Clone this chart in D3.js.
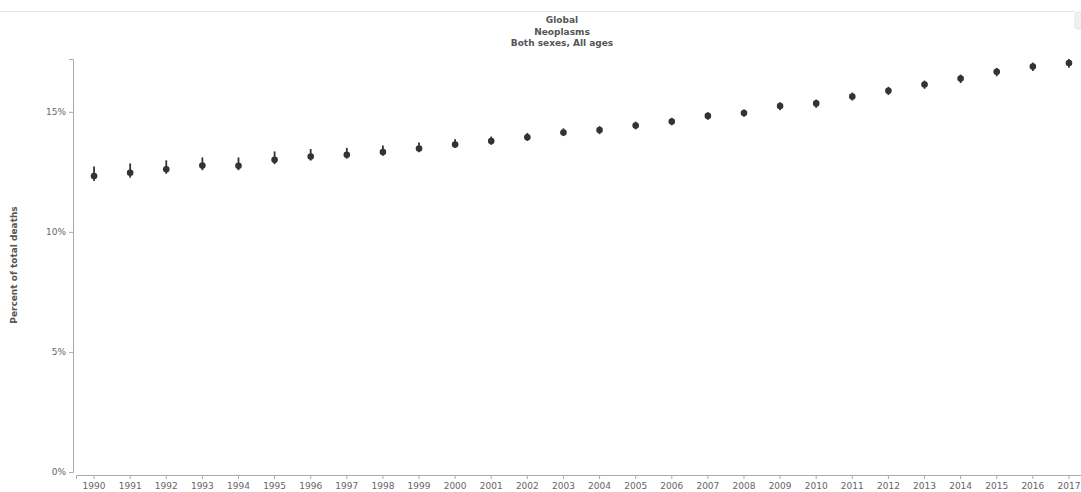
<!DOCTYPE html>
<html>
<head>
<meta charset="utf-8">
<script src="https://cdn.jsdelivr.net/npm/d3@7"></script>
<style>
  body { margin: 0; background: #fff; }
  svg { display: block; font-family: "DejaVu Sans", Verdana, sans-serif; }
</style>
</head>
<body>
<svg width="1081" height="492"></svg>
<script>
const years = d3.range(1990, 2018).map(String);
const mean = [12.33, 12.46, 12.61, 12.76, 12.75, 13.0, 13.14, 13.21, 13.33, 13.47,
  13.64, 13.78, 13.94, 14.14, 14.24, 14.43, 14.6, 14.83, 14.95, 15.24,
  15.35, 15.64, 15.88, 16.14, 16.39, 16.67, 16.89, 17.03];
const lower = [12.12, 12.26, 12.42, 12.57, 12.57, 12.82, 12.97, 13.05, 13.17, 13.32,
  13.5, 13.63, 13.79, 13.99, 14.07, 14.27, 14.44, 14.67, 14.79, 15.07,
  15.17, 15.47, 15.7, 15.96, 16.2, 16.48, 16.7, 16.84];
const upper = [12.72, 12.85, 12.98, 13.1, 13.1, 13.35, 13.45, 13.5, 13.6, 13.72,
  13.86, 13.97, 14.12, 14.31, 14.4, 14.59, 14.75, 14.98, 15.1, 15.4,
  15.51, 15.8, 16.04, 16.3, 16.55, 16.83, 17.05, 17.2];
const yTicks = [0, 5, 10, 15];
const titleLines = ["Global", "Neoplasms", "Both sexes, All ages"];

const svg = d3.select("svg");

// thin rule across the top and the little handle at right
svg.append("line").attr("x1", 0).attr("x2", 1075).attr("y1", 11.5).attr("y2", 11.5)
  .attr("stroke", "#e6e6e6");
svg.append("rect").attr("x", 1075).attr("y", 12).attr("width", 8).attr("height", 17)
  .attr("rx", 3).attr("fill", "#f0f0f0").attr("stroke", "#e4e4e4");

const x = d3.scaleBand().domain(years).range([76, 1087]);
const y = d3.scaleLinear().domain([0, d3.max(upper)]).range([472, 59]);

// title
svg.append("g").selectAll("text").data(titleLines).enter().append("text")
  .attr("x", 562).attr("y", (d, i) => 23 + i * 11.5)
  .attr("text-anchor", "middle")
  .attr("font-size", 9).attr("font-weight", "bold").attr("fill", "#555")
  .text(d => d);

// y axis
const yAxis = svg.append("g").attr("transform", "translate(73,0)")
  .call(d3.axisLeft(y).tickValues(yTicks).tickFormat(d => d + "%").tickSize(4).tickSizeOuter(4));
// x axis
const xAxis = svg.append("g").attr("transform", "translate(0,475)")
  .call(d3.axisBottom(x).tickSize(4).tickSizeOuter(4));

[yAxis, xAxis].forEach(a => {
  a.select(".domain").attr("stroke", "#aaa");
  a.selectAll(".tick line").attr("stroke", "#aaa");
  a.selectAll(".tick text").attr("fill", "#666").attr("font-size", 9)
    .attr("font-family", "DejaVu Sans, sans-serif");
});
xAxis.selectAll(".tick text").attr("y", 7.5);

svg.append("text")
  .attr("transform", "translate(17,265) rotate(-90)")
  .attr("text-anchor", "middle")
  .attr("font-size", 9).attr("font-weight", "bold").attr("fill", "#555")
  .text("Percent of total deaths");

// uncertainty bars and points
const pts = svg.append("g").selectAll("g").data(years).enter().append("g");
pts.append("line")
  .attr("x1", d => x(d) + x.bandwidth() / 2).attr("x2", d => x(d) + x.bandwidth() / 2)
  .attr("y1", (d, i) => y(upper[i])).attr("y2", (d, i) => y(lower[i]))
  .attr("stroke", "#333").attr("stroke-width", 1.8);
pts.append("circle")
  .attr("cx", d => x(d) + x.bandwidth() / 2)
  .attr("cy", (d, i) => y(mean[i]))
  .attr("r", 3.3).attr("fill", "#333");
</script>
</body>
</html>
